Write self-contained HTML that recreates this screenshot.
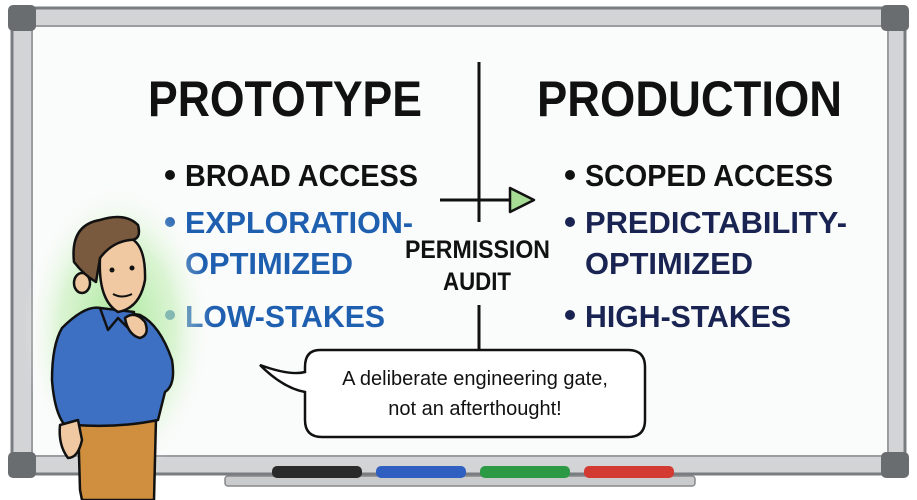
<!DOCTYPE html>
<html><head><style>
body{margin:0;background:#fff;}
svg{display:block;}
text{font-family:"Liberation Sans",sans-serif;font-weight:bold;}
</style></head><body>
<svg width="917" height="500" viewBox="0 0 917 500" xmlns="http://www.w3.org/2000/svg">
<defs>
<radialGradient id="g" cx="0.5" cy="0.5" r="0.5">
<stop offset="0" stop-color="#9be38a" stop-opacity="0.9"/>
<stop offset="0.6" stop-color="#c4efb6" stop-opacity="0.6"/>
<stop offset="1" stop-color="#ffffff" stop-opacity="0"/>
</radialGradient>
</defs>
<rect width="917" height="500" fill="#fff"/>
<rect x="12" y="8" width="893" height="466" rx="8" fill="#d2d4d6" stroke="#7a7d80" stroke-width="3"/>
<rect x="32" y="26" width="856" height="430" fill="#fafbfb" stroke="#9a9da0" stroke-width="2"/>
<rect x="8" y="5" width="28" height="26" rx="5" fill="#6a6d70"/>
<rect x="881" y="5" width="28" height="26" rx="5" fill="#6a6d70"/>
<rect x="8" y="452" width="28" height="26" rx="5" fill="#6a6d70"/>
<rect x="881" y="452" width="28" height="26" rx="5" fill="#6a6d70"/>
<rect x="225" y="476" width="470" height="10" rx="3" fill="#c9cbcd" stroke="#888" stroke-width="1.5"/>
<rect x="272" y="466" width="90" height="12" rx="5" fill="#2a2a2a"/>
<rect x="376" y="466" width="90" height="12" rx="5" fill="#2f5fc0"/>
<rect x="480" y="466" width="90" height="12" rx="5" fill="#2c9a44"/>
<rect x="584" y="466" width="90" height="12" rx="5" fill="#d23a32"/>
<text x="148" y="116" font-size="50" textLength="274" lengthAdjust="spacingAndGlyphs" fill="#111">PROTOTYPE</text>
<text x="537" y="116" font-size="50" textLength="305" lengthAdjust="spacingAndGlyphs" fill="#111">PRODUCTION</text>
<g font-size="31">
<circle cx="170" cy="175" r="5" fill="#111"/>
<text x="185" y="186" textLength="233" lengthAdjust="spacingAndGlyphs" fill="#111">BROAD ACCESS</text>
<circle cx="170" cy="222" r="5" fill="#1f5fb0"/>
<text x="185" y="233" textLength="228" lengthAdjust="spacingAndGlyphs" fill="#1f5fb0">EXPLORATION-</text>
<text x="185" y="274" textLength="168" lengthAdjust="spacingAndGlyphs" fill="#1f5fb0">OPTIMIZED</text>
<circle cx="170" cy="315" r="5" fill="#1f5fb0"/>
<text x="185" y="327" textLength="200" lengthAdjust="spacingAndGlyphs" fill="#1f5fb0">LOW-STAKES</text>
<circle cx="570" cy="175" r="5" fill="#111"/>
<text x="585" y="186" textLength="248" lengthAdjust="spacingAndGlyphs" fill="#111">SCOPED ACCESS</text>
<circle cx="570" cy="222" r="5" fill="#1a2452"/>
<text x="585" y="233" textLength="262" lengthAdjust="spacingAndGlyphs" fill="#1a2452">PREDICTABILITY-</text>
<text x="585" y="274" textLength="168" lengthAdjust="spacingAndGlyphs" fill="#1a2452">OPTIMIZED</text>
<circle cx="570" cy="315" r="5" fill="#1a2452"/>
<text x="585" y="327" textLength="206" lengthAdjust="spacingAndGlyphs" fill="#1a2452">HIGH-STAKES</text>
</g>
<line x1="479" y1="62" x2="479" y2="222" stroke="#111" stroke-width="3"/>
<line x1="479" y1="305" x2="479" y2="352" stroke="#111" stroke-width="3"/>
<line x1="440" y1="200" x2="512" y2="200" stroke="#111" stroke-width="3"/>
<path d="M510 188 L534 200 L510 212 Z" fill="#a6dc94" stroke="#111" stroke-width="2.5" stroke-linejoin="round"/>
<text x="405" y="258" font-size="25" textLength="145" lengthAdjust="spacingAndGlyphs" fill="#111">PERMISSION</text>
<text x="443" y="290" font-size="25" textLength="68" lengthAdjust="spacingAndGlyphs" fill="#111">AUDIT</text>
<ellipse cx="118" cy="330" rx="95" ry="150" fill="url(#g)"/>
<g stroke="#111" stroke-width="2.5" stroke-linejoin="round">
<path d="M80 490 L78 420 L156 418 L154 500 L82 500 Z" fill="#cf8f3e"/>
<path d="M62 328 Q85 305 100 308 L140 315 Q160 325 172 360 Q176 385 165 392 L158 420 Q120 428 75 425 L70 430 Q55 420 52 380 Q52 345 62 328 Z" fill="#3d6fc2"/>
<path d="M60 425 Q58 445 68 458 Q78 458 82 440 L78 420 Z" fill="#f0c9a3"/>
<path d="M100 308 L108 330 L118 318 L128 328 L134 312 Z" fill="#3d6fc2"/>
<path d="M100 258 Q98 300 118 312 Q140 308 145 280 Q146 245 130 238 Q110 238 100 258 Z" fill="#f0c9a3"/>
<ellipse cx="82" cy="283" rx="8" ry="10" fill="#f0c9a3"/>
<path d="M74 262 Q70 225 100 220 Q125 212 138 225 Q142 240 130 240 Q112 242 100 258 L96 282 Q84 275 74 262 Z" fill="#7a5a3e"/>
<path d="M125 318 Q135 310 145 322 Q150 335 140 338 Q128 335 125 318 Z" fill="#f0c9a3"/>
</g>
<circle cx="112" cy="270" r="2.5" fill="#111"/>
<circle cx="132" cy="268" r="2.5" fill="#111"/>
<path d="M113 294 Q122 299 132 294" fill="none" stroke="#111" stroke-width="2"/>
<path d="M320 350 L628 350 Q645 350 645 367 L645 420 Q645 437 628 437 L322 437 Q305 437 305 420 L305 392 Q283 388 260 365 Q290 376 305 372 L305 367 Q305 350 320 350 Z" fill="#fff" stroke="#111" stroke-width="2.5"/>
<text x="475" y="385" font-size="20" text-anchor="middle" fill="#111" style="font-weight:500">A deliberate engineering gate,</text>
<text x="475" y="415" font-size="20" text-anchor="middle" fill="#111" style="font-weight:500">not an afterthought!</text>
</svg>
</body></html>
